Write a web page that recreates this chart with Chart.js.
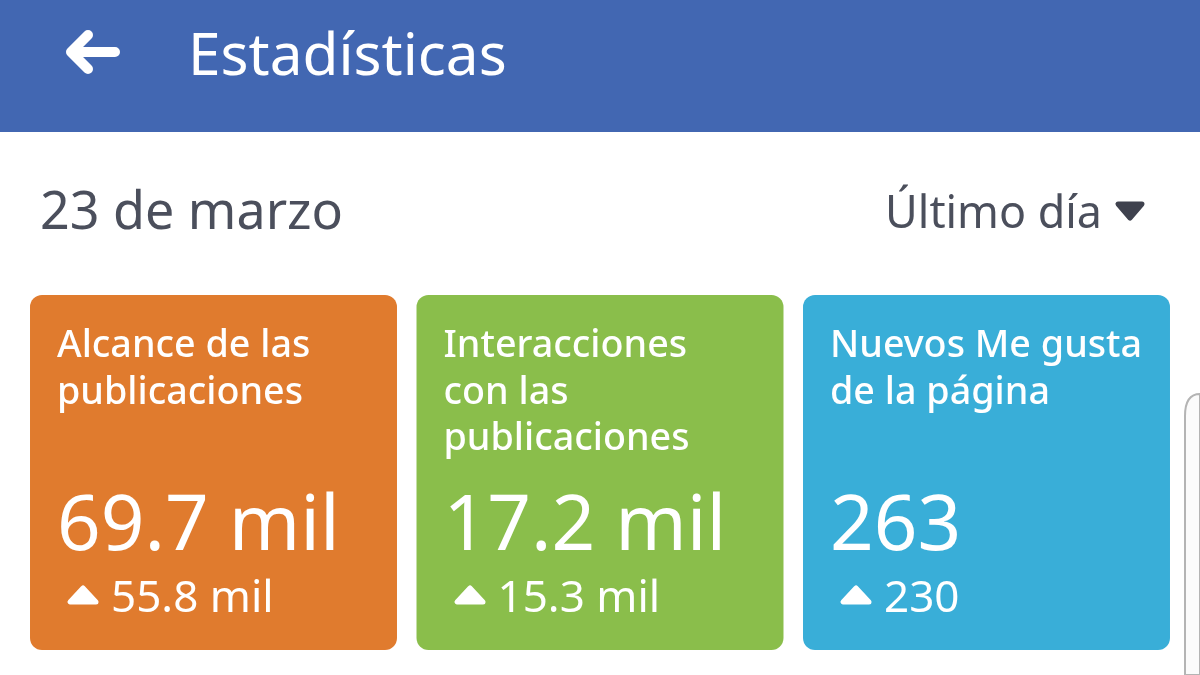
<!DOCTYPE html>
<html>
<head>
<meta charset="utf-8">
<title>Estadísticas</title>
<script src="https://cdn.jsdelivr.net/npm/chart.js@4"></script>
<style>
  html, body { margin: 0; padding: 0; background: #fff; }
  body { position: relative; width: 1200px; height: 675px; overflow: hidden; font-family: "Noto Sans", sans-serif; }
  #header { position: absolute; left: 0; top: 0; width: 1200px; height: 132px; background: #4267b2; }
  #chart { position: absolute; left: 0; top: 0; }
  .txt { position: absolute; white-space: nowrap; }
  .icon { position: absolute; }
  #title { left: 188px; top: 14px; font-size: 58.5px; line-height: 76px; color: #fff; }
  #date { left: 40px; top: 177px; font-size: 52px; line-height: 64px; color: #4b4f5c; }
  #range { right: 98px; top: 181px; font-size: 44.8px; line-height: 60px; color: #4b4f5c; }
  .label { font-size: 37.7px; font-weight: 500; line-height: 46.5px; color: #fff; white-space: pre; }
  .value { font-size: 76.5px; line-height: 90px; color: #fff; }
  .delta { font-size: 44px; line-height: 56px; color: #fff; }
</style>
</head>
<body>
<div id="header"></div>
<canvas id="chart" width="1200" height="675"></canvas>
<svg class="icon" style="left:60px;top:25px" width="66" height="56" viewBox="0 0 66 56">
  <path d="M55 27H12M28 10L11 27L28 44" fill="none" stroke="#fff" stroke-width="10" stroke-linecap="round" stroke-linejoin="round"/>
</svg>
<div class="txt" id="title">Estadísticas</div>
<div class="txt" id="date">23 de marzo</div>
<div class="txt" id="range">Último día</div>
<svg class="icon" style="left:1112px;top:198px" width="36" height="26" viewBox="0 0 36 26">
  <path d="M6 6H30L18 20Z" fill="#3f424e" stroke="#3f424e" stroke-width="5" stroke-linejoin="round"/>
</svg>
<svg class="icon" style="left:1180px;top:390px" width="20" height="285" viewBox="0 0 20 285">
  <path d="M20 4Q5 4 5 26V285H20Z" fill="#fbfbfb" stroke="#b4b4b4" stroke-width="2"/>
</svg>
<script>
const cardLabels = [
  "Alcance de las\npublicaciones",
  "Interacciones\ncon las\npublicaciones",
  "Nuevos Me gusta\nde la página"
];
const cardValues = ["69.7 mil", "17.2 mil", "263"];
const cardDeltas = ["55.8 mil", "15.3 mil", "230"];
const cardColors = ["#e07b2e", "#8abe4b", "#39aed8"];
// every card is the same height, the number is written on it and not plotted
const cardFill = [1, 1, 1];

const chart = new Chart(document.getElementById("chart").getContext("2d"), {
  type: "bar",
  data: {
    labels: cardValues,
    datasets: [{
      data: cardFill,
      backgroundColor: cardColors,
      borderRadius: 12,
      borderSkipped: false,
      barPercentage: 0.9495,
      categoryPercentage: 1
    }]
  },
  options: {
    responsive: false,
    animation: false,
    layout: { padding: { left: 20.25, right: 20.25, top: 295, bottom: 25 } },
    plugins: { legend: { display: false }, tooltip: { enabled: false } },
    scales: {
      x: { display: false },
      y: { display: false, min: 0, max: 1 }
    }
  }
});

function addText(cls, text, left, top) {
  const el = document.createElement("div");
  el.className = "txt " + cls;
  el.textContent = text;
  el.style.left = left + "px";
  el.style.top = top + "px";
  document.body.appendChild(el);
  return el;
}

chart.getDatasetMeta(0).data.forEach((bar, i) => {
  const left = bar.x - bar.width / 2;
  addText("label", cardLabels[i], left + 27, 320);
  addText("value", cardValues[i], left + 27, 475);
  addText("delta", cardDeltas[i], left + 81, 567);
  const ns = "http://www.w3.org/2000/svg";
  const svg = document.createElementNS(ns, "svg");
  svg.setAttribute("class", "icon");
  svg.setAttribute("width", "36");
  svg.setAttribute("height", "24");
  svg.setAttribute("viewBox", "0 0 36 24");
  svg.style.left = (left + 36) + "px";
  svg.style.top = "583px";
  const p = document.createElementNS(ns, "path");
  p.setAttribute("d", "M4 19H30L17 5Z");
  p.setAttribute("fill", "#fff");
  p.setAttribute("stroke", "#fff");
  p.setAttribute("stroke-width", "5");
  p.setAttribute("stroke-linejoin", "round");
  svg.appendChild(p);
  document.body.appendChild(svg);
});
</script>
</body>
</html>
